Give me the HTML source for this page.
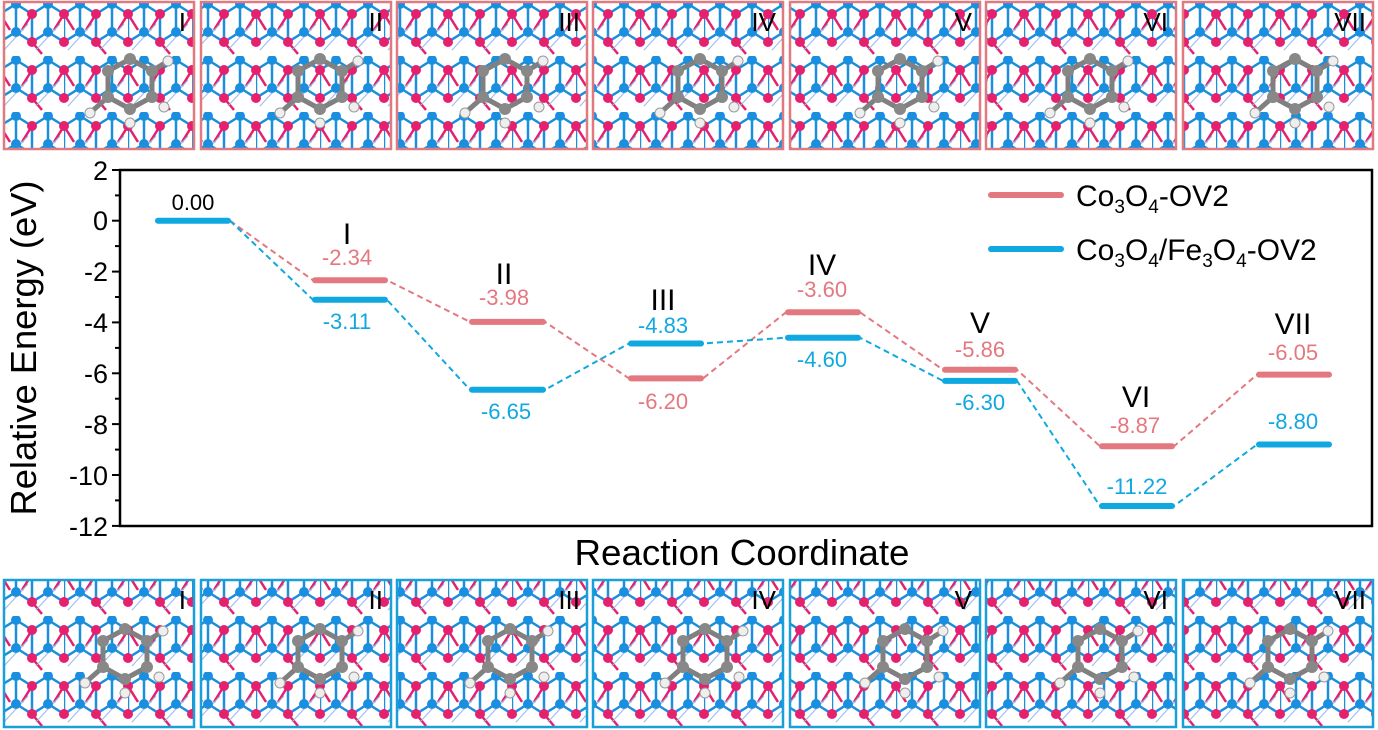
<!DOCTYPE html>
<html><head><meta charset="utf-8"><style>
html,body{margin:0;padding:0;background:#fff;}
svg{display:block;font-family:"Liberation Sans",Arial,sans-serif;}
</style></head><body>
<svg width="1378" height="730" viewBox="0 0 1378 730" xmlns="http://www.w3.org/2000/svg">
<defs>
<pattern id="lat" x="0" y="0" width="64" height="56" patternUnits="userSpaceOnUse">
<rect width="64" height="56" fill="#fff"/>
<path d="M0 14 L16 4 L32 14 L48 4 L64 14 M16 4 L16 32 M48 4 L48 32 M0 42 L16 32 L32 42 L48 32 L64 42 M32 14 L32 42 M0 14 L0 42" stroke="#1a8fe0" stroke-width="2.5" fill="none"/>
<path d="M0 14 L10 30 M32 14 L22 30 M64 14 L54 30 M32 42 L42 54" stroke="#e5206e" stroke-width="2.5"/>
<path d="M4 50 L28 24 M36 50 L60 24" stroke="#9ab8e8" stroke-width="1"/>
<circle cx="16" cy="4" r="5" fill="#1a8fe0"/><circle cx="48" cy="4" r="5" fill="#1a8fe0"/>
<circle cx="16" cy="32" r="5" fill="#1a8fe0"/><circle cx="48" cy="32" r="5" fill="#1a8fe0"/>
<circle cx="0" cy="14" r="5" fill="#e5206e"/><circle cx="32" cy="14" r="5" fill="#e5206e"/><circle cx="64" cy="14" r="5" fill="#e5206e"/>
<circle cx="0" cy="42" r="5" fill="#e5206e"/><circle cx="32" cy="42" r="5" fill="#e5206e"/><circle cx="64" cy="42" r="5" fill="#e5206e"/>
</pattern>
<g id="mol">
<path d="M-22 -14 L0 -26 L22 -14 L22 12 L0 24 L-22 12 Z M-22 12 L-40 28 M22 -14 L38 -24" stroke="#808080" stroke-width="5" fill="none"/>
<circle cx="-22" cy="-14" r="6" fill="#888"/><circle cx="0" cy="-26" r="6" fill="#888"/><circle cx="22" cy="-14" r="6" fill="#888"/>
<circle cx="22" cy="12" r="6" fill="#888"/><circle cx="0" cy="24" r="6" fill="#888"/><circle cx="-22" cy="12" r="6" fill="#888"/>
<circle cx="-40" cy="28" r="5" fill="#eee" stroke="#999"/><circle cx="38" cy="-24" r="5" fill="#eee" stroke="#999"/>
<circle cx="0" cy="38" r="5" fill="#eee" stroke="#999"/><circle cx="34" cy="22" r="5" fill="#eee" stroke="#999"/>
</g>
</defs>

<!-- top panels -->
<g stroke="#e07a80" stroke-width="2.5">
<rect x="4" y="2" width="190" height="147" fill="url(#lat)"/>
<rect x="201" y="2" width="190" height="147" fill="url(#lat)"/>
<rect x="397" y="2" width="190" height="147" fill="url(#lat)"/>
<rect x="593" y="2" width="190" height="147" fill="url(#lat)"/>
<rect x="790" y="2" width="190" height="147" fill="url(#lat)"/>
<rect x="986" y="2" width="190" height="147" fill="url(#lat)"/>
<rect x="1183" y="2" width="190" height="147" fill="url(#lat)"/>
</g>
<use href="#mol" x="130" y="85"/><use href="#mol" x="320" y="85"/><use href="#mol" x="505" y="85"/>
<use href="#mol" x="700" y="85"/><use href="#mol" x="900" y="85"/><use href="#mol" x="1090" y="85"/><use href="#mol" x="1295" y="85"/>
<g font-size="26" fill="#000" text-anchor="end">
<text x="186" y="31">I</text><text x="383" y="31">II</text><text x="580" y="31">III</text><text x="776" y="31">IV</text>
<text x="972" y="31">V</text><text x="1168" y="31">VI</text><text x="1366" y="31">VII</text>
</g>

<!-- bottom panels -->
<g stroke="#1aa0d8" stroke-width="2.5">
<rect x="4" y="580" width="190" height="147" fill="url(#lat)"/>
<rect x="201" y="580" width="190" height="147" fill="url(#lat)"/>
<rect x="397" y="580" width="190" height="147" fill="url(#lat)"/>
<rect x="593" y="580" width="190" height="147" fill="url(#lat)"/>
<rect x="790" y="580" width="190" height="147" fill="url(#lat)"/>
<rect x="986" y="580" width="190" height="147" fill="url(#lat)"/>
<rect x="1183" y="580" width="190" height="147" fill="url(#lat)"/>
</g>
<use href="#mol" x="125" y="655"/><use href="#mol" x="320" y="655"/><use href="#mol" x="510" y="655"/>
<use href="#mol" x="705" y="655"/><use href="#mol" x="905" y="655"/><use href="#mol" x="1100" y="655"/><use href="#mol" x="1290" y="655"/>
<g font-size="26" fill="#000" text-anchor="end">
<text x="186" y="609">I</text><text x="383" y="609">II</text><text x="580" y="609">III</text><text x="776" y="609">IV</text>
<text x="972" y="609">V</text><text x="1168" y="609">VI</text><text x="1366" y="609">VII</text>
</g>

<!-- chart frame -->
<rect x="120" y="170" width="1252" height="356" fill="none" stroke="#000" stroke-width="2.5"/>
<g stroke="#000" stroke-width="2">
<line x1="120" y1="170" x2="112" y2="170"/><line x1="120" y1="195.4" x2="115" y2="195.4"/>
<line x1="120" y1="220.7" x2="112" y2="220.7"/><line x1="120" y1="246.1" x2="115" y2="246.1"/>
<line x1="120" y1="271.6" x2="112" y2="271.6"/><line x1="120" y1="297" x2="115" y2="297"/>
<line x1="120" y1="322.4" x2="112" y2="322.4"/><line x1="120" y1="347.9" x2="115" y2="347.9"/>
<line x1="120" y1="373.3" x2="112" y2="373.3"/><line x1="120" y1="398.7" x2="115" y2="398.7"/>
<line x1="120" y1="424.1" x2="112" y2="424.1"/><line x1="120" y1="449.6" x2="115" y2="449.6"/>
<line x1="120" y1="475" x2="112" y2="475"/><line x1="120" y1="500.4" x2="115" y2="500.4"/>
<line x1="120" y1="525.9" x2="112" y2="525.9"/>
</g>
<g font-size="27" fill="#000" text-anchor="end">
<text x="108" y="180">2</text><text x="108" y="230">0</text><text x="108" y="281">-2</text>
<text x="108" y="332">-4</text><text x="108" y="383">-6</text><text x="108" y="434">-8</text>
<text x="108" y="485">-10</text><text x="108" y="536">-12</text>
</g>
<text transform="translate(36,348) rotate(-90)" font-size="36" text-anchor="middle" textLength="335" lengthAdjust="spacingAndGlyphs">Relative Energy (eV)</text>
<text x="742" y="565" font-size="36" text-anchor="middle" textLength="335" lengthAdjust="spacingAndGlyphs">Reaction Coordinate</text>

<!-- dashed connectors -->
<g stroke-width="2" stroke-dasharray="6,4" fill="none">
<polyline stroke="#e47880" points="230,220.7 313,280.2 387,280.2 470,321.9 545,321.9 629,378.4 703,378.4 786,312.3 860,312.3 943,369.7 1017,369.7 1100,446.3 1174,446.3 1257,374.6 1331,374.6"/>
<polyline stroke="#10a8e0" points="230,220.7 313,299.8 387,299.8 470,389.8 545,389.8 629,343.5 703,343.5 786,337.7 860,337.7 943,380.9 1017,380.9 1100,506 1174,506 1257,444.5 1331,444.5"/>
</g>
<g stroke-width="6" stroke-linecap="round">
<line x1="158" y1="220.7" x2="228" y2="220.7" stroke="#10a8e0"/>
<line x1="315" y1="280.2" x2="385" y2="280.2" stroke="#e47880"/>
<line x1="315" y1="299.8" x2="385" y2="299.8" stroke="#10a8e0"/>
<line x1="472" y1="321.9" x2="543" y2="321.9" stroke="#e47880"/>
<line x1="472" y1="389.8" x2="543" y2="389.8" stroke="#10a8e0"/>
<line x1="631" y1="378.4" x2="701" y2="378.4" stroke="#e47880"/>
<line x1="631" y1="343.5" x2="701" y2="343.5" stroke="#10a8e0"/>
<line x1="788" y1="312.3" x2="858" y2="312.3" stroke="#e47880"/>
<line x1="788" y1="337.7" x2="858" y2="337.7" stroke="#10a8e0"/>
<line x1="945" y1="369.7" x2="1015" y2="369.7" stroke="#e47880"/>
<line x1="945" y1="380.9" x2="1015" y2="380.9" stroke="#10a8e0"/>
<line x1="1102" y1="446.3" x2="1172" y2="446.3" stroke="#e47880"/>
<line x1="1102" y1="506" x2="1172" y2="506" stroke="#10a8e0"/>
<line x1="1259" y1="374.6" x2="1329" y2="374.6" stroke="#e47880"/>
<line x1="1259" y1="444.5" x2="1329" y2="444.5" stroke="#10a8e0"/>
</g>
<g font-size="22" text-anchor="middle">
<text x="193" y="210" fill="#000">0.00</text>
<text x="347" y="265" fill="#e47880">-2.34</text><text x="347" y="329" fill="#10a8e0">-3.11</text>
<text x="504" y="305" fill="#e47880">-3.98</text><text x="506" y="419" fill="#10a8e0">-6.65</text>
<text x="663" y="333" fill="#10a8e0">-4.83</text><text x="663" y="409" fill="#e47880">-6.20</text>
<text x="822" y="297" fill="#e47880">-3.60</text><text x="822" y="367" fill="#10a8e0">-4.60</text>
<text x="980" y="357" fill="#e47880">-5.86</text><text x="980" y="410" fill="#10a8e0">-6.30</text>
<text x="1135" y="433" fill="#e47880">-8.87</text><text x="1137" y="494" fill="#10a8e0">-11.22</text>
<text x="1293" y="360" fill="#e47880">-6.05</text><text x="1293" y="429" fill="#10a8e0">-8.80</text>
</g>
<g font-size="30" text-anchor="middle" fill="#000">
<text x="347" y="244">I</text><text x="504" y="284">II</text><text x="663" y="310">III</text>
<text x="822" y="275">IV</text><text x="980" y="333">V</text><text x="1136" y="407">VI</text><text x="1293" y="334">VII</text>
</g>

<!-- legend -->
<line x1="991" y1="195" x2="1061" y2="195" stroke="#e47880" stroke-width="6" stroke-linecap="round"/>
<line x1="991" y1="249" x2="1061" y2="249" stroke="#10a8e0" stroke-width="6" stroke-linecap="round"/>
<text x="1076" y="206" font-size="30">Co<tspan font-size="19" dy="7">3</tspan><tspan dy="-7">O</tspan><tspan font-size="19" dy="7">4</tspan><tspan dy="-7">-OV2</tspan></text>
<text x="1076" y="260" font-size="30">Co<tspan font-size="19" dy="7">3</tspan><tspan dy="-7">O</tspan><tspan font-size="19" dy="7">4</tspan><tspan dy="-7">/Fe</tspan><tspan font-size="19" dy="7">3</tspan><tspan dy="-7">O</tspan><tspan font-size="19" dy="7">4</tspan><tspan dy="-7">-OV2</tspan></text>
</svg>
</body></html>
